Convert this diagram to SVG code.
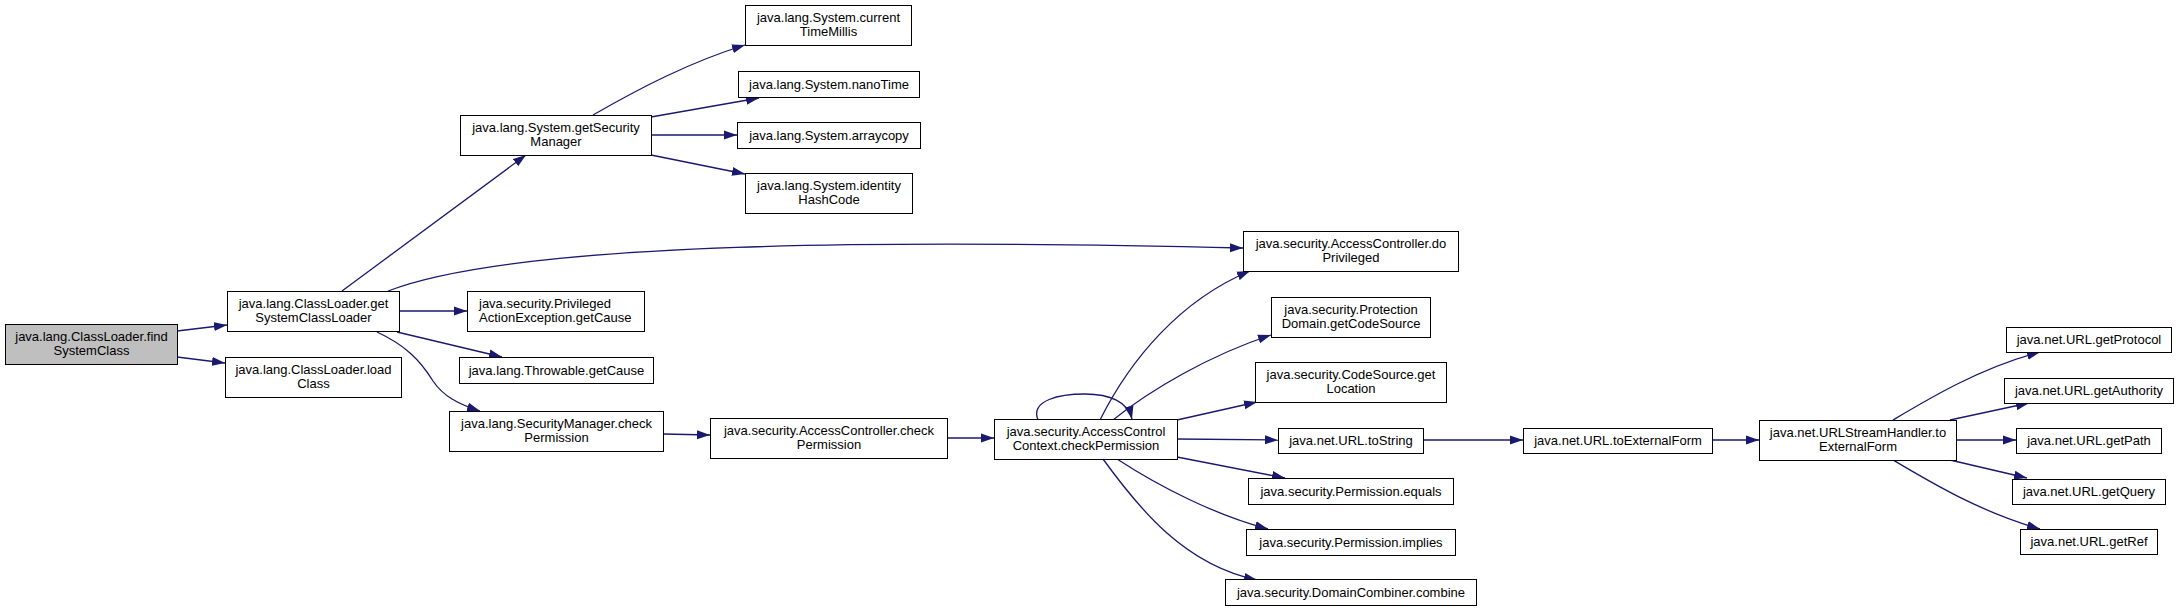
<svg xmlns="http://www.w3.org/2000/svg" width="2179" height="611" viewBox="0 0 2179 611">
<style>
.n rect{fill:#fff;stroke:#000;stroke-width:1}
.n.root rect{fill:#bfbfbf}
.n text{font-family:"Liberation Sans",Arial,sans-serif;font-size:13px;fill:#000;text-anchor:middle}
.e path{fill:none;stroke:#191970;stroke-width:1.3;marker-end:url(#ah)}
</style>
<defs>
<marker id="ah" markerWidth="13" markerHeight="10" refX="13" refY="5" orient="auto" markerUnits="userSpaceOnUse">
<path d="M0,0.5 L13,5 L0,9.5 z" fill="#191970"/>
</marker>
</defs>
<rect width="2179" height="611" fill="#fff"/>
<g id="edges" class="e">
<path d="M177,331 L227,325"/>
<path d="M177,357 L225,363"/>
<path d="M342,291 L526,155"/>
<path d="M388,291 C520,240 900,240 1243,248"/>
<path d="M399,311 L467,311"/>
<path d="M397,332 L502,357"/>
<path d="M377,332 C405,345 420,360 433,381 C443,396 458,404 480,411"/>
<path d="M593,115 C640,88 690,62 745,45"/>
<path d="M651,117 L759,98"/>
<path d="M651,135 L737,135"/>
<path d="M651,155 L745,174"/>
<path d="M663,434 L710,435"/>
<path d="M947,438 L994,438"/>
<path d="M1038,420 C1030,400 1060,394 1085,394 C1110,394 1128,402 1132,419"/>
<path d="M1100,420 C1130,360 1180,300 1250,271"/>
<path d="M1113,420 C1150,390 1210,355 1271,335"/>
<path d="M1177,420 L1257,402"/>
<path d="M1177,439 L1278,440"/>
<path d="M1177,457 L1285,478"/>
<path d="M1117,459 C1160,487 1215,515 1268,529"/>
<path d="M1103,459 C1140,510 1185,565 1257,580"/>
<path d="M1423,440 L1523,440"/>
<path d="M1712,440 L1759,440"/>
<path d="M1893,420 C1930,398 1980,368 2040,352"/>
<path d="M1950,420 L2029,403"/>
<path d="M1956,440 L2016,440"/>
<path d="M1950,460 L2027,478"/>
<path d="M1893,460 C1930,482 1980,512 2040,529"/>
</g>
<g id="n_findSystemClass" class="n root"><rect x="5.5" y="324.5" width="172" height="40"/><text x="91.5" y="341">java.lang.ClassLoader.find</text><text x="91.5" y="355">SystemClass</text></g>
<g id="n_getSystemClassLoader" class="n"><rect x="227.5" y="291.5" width="172" height="40"/><text x="313.5" y="308">java.lang.ClassLoader.get</text><text x="313.5" y="322">SystemClassLoader</text></g>
<g id="n_loadClass" class="n"><rect x="225.5" y="357.5" width="176" height="40"/><text x="313.5" y="374">java.lang.ClassLoader.load</text><text x="313.5" y="388">Class</text></g>
<g id="n_getSecurityManager" class="n"><rect x="460.5" y="115.5" width="191" height="40"/><text x="556" y="132">java.lang.System.getSecurity</text><text x="556" y="146">Manager</text></g>
<g id="n_currentTimeMillis" class="n"><rect x="745.5" y="5.5" width="166" height="40"/><text x="828.5" y="22">java.lang.System.current</text><text x="828.5" y="36">TimeMillis</text></g>
<g id="n_nanoTime" class="n"><rect x="738.5" y="71.5" width="181" height="26"/><text x="829" y="88.5">java.lang.System.nanoTime</text></g>
<g id="n_arraycopy" class="n"><rect x="737.5" y="122.5" width="183" height="26"/><text x="829" y="139.5">java.lang.System.arraycopy</text></g>
<g id="n_identityHashCode" class="n"><rect x="745.5" y="173.5" width="167" height="40"/><text x="829" y="190">java.lang.System.identity</text><text x="829" y="204">HashCode</text></g>
<g id="n_privilegedGetCause" class="n"><rect x="467.5" y="291.5" width="177" height="40"/><text x="479" y="308" style="text-anchor:start">java.security.Privileged</text><text x="479" y="322" style="text-anchor:start">ActionException.getCause</text></g>
<g id="n_throwableGetCause" class="n"><rect x="459.5" y="357.5" width="194" height="26"/><text x="556.5" y="374.5">java.lang.Throwable.getCause</text></g>
<g id="n_smCheckPermission" class="n"><rect x="449.5" y="411.5" width="214" height="40"/><text x="556.5" y="428">java.lang.SecurityManager.check</text><text x="556.5" y="442">Permission</text></g>
<g id="n_acCheckPermission" class="n"><rect x="710.5" y="418.5" width="237" height="40"/><text x="829" y="435">java.security.AccessController.check</text><text x="829" y="449">Permission</text></g>
<g id="n_accCheckPermission" class="n"><rect x="994.5" y="419.5" width="183" height="40"/><text x="1086" y="436">java.security.AccessControl</text><text x="1086" y="450">Context.checkPermission</text></g>
<g id="n_doPrivileged" class="n"><rect x="1243.5" y="231.5" width="215" height="40"/><text x="1351" y="248">java.security.AccessController.do</text><text x="1351" y="262">Privileged</text></g>
<g id="n_getCodeSource" class="n"><rect x="1271.5" y="297.5" width="159" height="40"/><text x="1351" y="314">java.security.Protection</text><text x="1351" y="328">Domain.getCodeSource</text></g>
<g id="n_getLocation" class="n"><rect x="1255.5" y="362.5" width="191" height="40"/><text x="1351" y="379">java.security.CodeSource.get</text><text x="1351" y="393">Location</text></g>
<g id="n_urlToString" class="n"><rect x="1278.5" y="428.5" width="145" height="25"/><text x="1351" y="445">java.net.URL.toString</text></g>
<g id="n_permEquals" class="n"><rect x="1248.5" y="478.5" width="205" height="26"/><text x="1351" y="495.5">java.security.Permission.equals</text></g>
<g id="n_permImplies" class="n"><rect x="1246.5" y="529.5" width="209" height="26"/><text x="1351" y="546.5">java.security.Permission.implies</text></g>
<g id="n_combine" class="n"><rect x="1225.5" y="579.5" width="251" height="26"/><text x="1351" y="596.5">java.security.DomainCombiner.combine</text></g>
<g id="n_urlToExternalForm" class="n"><rect x="1523.5" y="428.5" width="189" height="25"/><text x="1618" y="445">java.net.URL.toExternalForm</text></g>
<g id="n_ushToExternalForm" class="n"><rect x="1759.5" y="420.5" width="197" height="40"/><text x="1858" y="437">java.net.URLStreamHandler.to</text><text x="1858" y="451">ExternalForm</text></g>
<g id="n_getProtocol" class="n"><rect x="2006.5" y="327.5" width="165" height="25"/><text x="2089" y="344">java.net.URL.getProtocol</text></g>
<g id="n_getAuthority" class="n"><rect x="2004.5" y="378.5" width="169" height="25"/><text x="2089" y="395">java.net.URL.getAuthority</text></g>
<g id="n_getPath" class="n"><rect x="2016.5" y="428.5" width="145" height="25"/><text x="2089" y="445">java.net.URL.getPath</text></g>
<g id="n_getQuery" class="n"><rect x="2012.5" y="479.5" width="153" height="25"/><text x="2089" y="496">java.net.URL.getQuery</text></g>
<g id="n_getRef" class="n"><rect x="2020.5" y="529.5" width="137" height="25"/><text x="2089" y="546">java.net.URL.getRef</text></g>
</svg>
